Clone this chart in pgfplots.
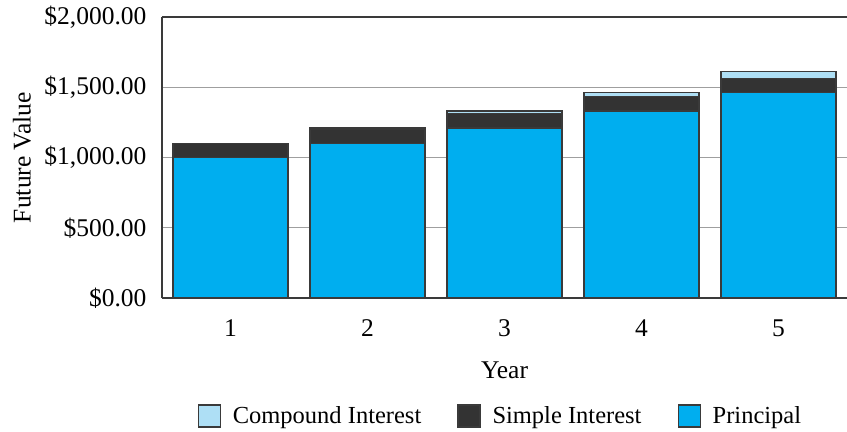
\documentclass[border=0pt]{standalone}
\usepackage{pgfplots}
\pgfplotsset{compat=1.18}
\usepackage{fontspec}
\setmainfont{Liberation Serif}

\definecolor{principal}{HTML}{00AEEF}
\definecolor{simple}{HTML}{333333}
\definecolor{compound}{HTML}{AEDFF5}
\definecolor{edge}{HTML}{3A3A3A}

\begin{document}
\begin{tikzpicture}[font=\fontsize{25.5bp}{30bp}\selectfont]
\useasboundingbox (-162bp,-134bp) rectangle (685bp,298bp);
\begin{axis}[
  at={(0,0)}, anchor=south west,
  scale only axis, width=685bp, height=281bp,
  ybar stacked, bar width=115bp,
  xmin=0.5, xmax=5.5, ymin=0, ymax=2000,
  xtick={1,2,3,4,5},
  ytick={0,500,1000,1500,2000},
  yticklabels={{\$0.00},{\$500.00},{\$1,000.00},{\$1,500.00},{\$2,000.00}},
  major tick length=0,
  yticklabel style={xshift=-12bp},
  xticklabel style={yshift=-18bp},
  axis lines*=left,
  axis line style={-, edge, line width=1.5bp},
  ymajorgrids,
  grid style={gray!75, line width=1bp},
  /pgf/number format/assume math mode=true,
  xlabel={Year}, ylabel={Future Value},
  xlabel style={at={(axis description cs:0.5,-0.256)}, anchor=center},
  ylabel style={at={(axis description cs:-0.2045,0.5)}, anchor=center},
  legend style={at={(axis description cs:0.494,-0.42)}, anchor=center,
    draw=none, fill=none, legend columns=3,
    font=\fontsize{24.5bp}{29bp}\selectfont,
    /tikz/every odd column/.append style={column sep=10bp},
    /tikz/every even column/.append style={column sep=34bp}},
  legend cell align=left,
  reverse legend,
  legend image code/.code={\draw[#1, draw=edge, line width=1.2bp] (0bp,-11bp) rectangle (22bp,11bp);},
]
\addplot[fill=principal, draw=edge, line width=1.1bp]
  coordinates {(1,1000) (2,1100) (3,1210) (4,1331) (5,1464.10)};
\addlegendentry{Principal}
\addplot[fill=simple, draw=edge, line width=1.1bp]
  coordinates {(1,100) (2,100) (3,100) (4,100) (5,100)};
\addlegendentry{Simple Interest}
\addplot[fill=compound, draw=edge, line width=1.1bp]
  coordinates {(1,0) (2,10) (3,21) (4,33.10) (5,46.41)};
\addlegendentry{Compound Interest}
\draw[edge, line width=1.5bp] (rel axis cs:0,1) -- (rel axis cs:1,1);
\end{axis}
\end{tikzpicture}
\end{document}
